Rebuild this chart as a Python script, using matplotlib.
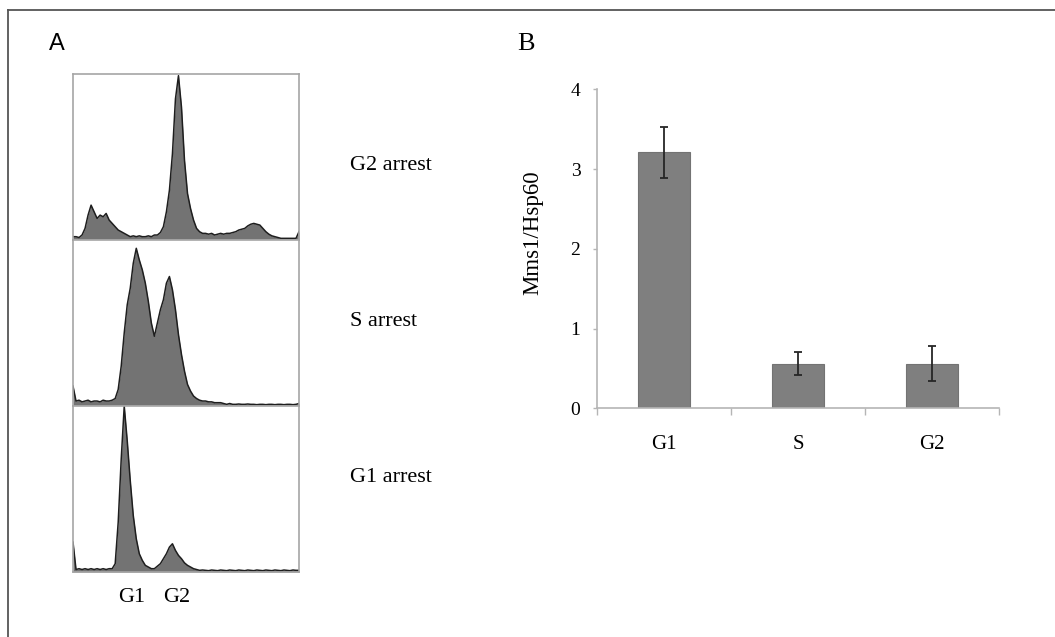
import numpy as np
import matplotlib.pyplot as plt
from matplotlib.lines import Line2D

# DNA content histograms (relative cell counts, 76 channels each)
g2_arrest = [0.02, 0.02, 0.015, 0.03, 0.07, 0.15, 0.21, 0.17, 0.13, 0.15,
             0.14, 0.16, 0.12, 0.10, 0.08, 0.06, 0.05, 0.04, 0.03, 0.02,
             0.025, 0.02, 0.025, 0.02, 0.02, 0.025, 0.02, 0.03, 0.03, 0.045,
             0.08, 0.17, 0.30, 0.52, 0.85, 0.99, 0.80, 0.48, 0.28, 0.19,
             0.12, 0.07, 0.05, 0.04, 0.04, 0.035, 0.04, 0.03, 0.035, 0.04,
             0.035, 0.04, 0.04, 0.045, 0.05, 0.06, 0.065, 0.07, 0.085, 0.095,
             0.10, 0.095, 0.09, 0.07, 0.05, 0.035, 0.025, 0.02, 0.015, 0.01,
             0.01, 0.01, 0.01, 0.01, 0.01, 0.05]
s_arrest = [0.12, 0.03, 0.035, 0.025, 0.03, 0.035, 0.025, 0.03, 0.03, 0.025,
            0.035, 0.03, 0.03, 0.035, 0.045, 0.10, 0.24, 0.44, 0.61, 0.71,
            0.86, 0.95, 0.88, 0.82, 0.74, 0.63, 0.50, 0.42, 0.50, 0.58,
            0.64, 0.74, 0.78, 0.70, 0.58, 0.43, 0.31, 0.21, 0.13, 0.09,
            0.06, 0.045, 0.035, 0.03, 0.03, 0.025, 0.025, 0.02, 0.02, 0.02,
            0.015, 0.01, 0.015, 0.01, 0.01, 0.012, 0.01, 0.01, 0.012, 0.01,
            0.01, 0.008, 0.01, 0.01, 0.008, 0.01, 0.01, 0.008, 0.01, 0.01,
            0.008, 0.01, 0.01, 0.008, 0.01, 0.015]
g1_arrest = [0.18, 0.015, 0.02, 0.015, 0.02, 0.015, 0.02, 0.015, 0.02, 0.015,
             0.02, 0.015, 0.02, 0.02, 0.05, 0.30, 0.68, 1.0, 0.79, 0.55,
             0.34, 0.20, 0.11, 0.07, 0.04, 0.03, 0.02, 0.02, 0.035, 0.05,
             0.08, 0.11, 0.15, 0.17, 0.13, 0.10, 0.08, 0.055, 0.04, 0.03,
             0.02, 0.015, 0.01, 0.012, 0.01, 0.008, 0.012, 0.01, 0.008, 0.012,
             0.01, 0.008, 0.012, 0.01, 0.008, 0.012, 0.01, 0.008, 0.012, 0.01,
             0.008, 0.012, 0.01, 0.008, 0.012, 0.01, 0.008, 0.012, 0.01, 0.008,
             0.012, 0.01, 0.008, 0.012, 0.01, 0.01]
hist_labels = ['G2 arrest', 'S arrest', 'G1 arrest']

# Mms1 levels normalised to Hsp60
phases = ['G1', 'S', 'G2']
ratio = [3.21, 0.56, 0.56]
ratio_err = [0.32, 0.14, 0.22]

plt.rcParams['font.family'] = ['Liberation Serif', 'DejaVu Serif']

fig = plt.figure(figsize=(10.55, 6.37), dpi=100)
W, H = 1055.0, 637.0

# outer frame (left and top edges)
fig.add_artist(Line2D([8 / W, 8 / W], [0, 1 - 10 / H], color='#555555', lw=1.3))
fig.add_artist(Line2D([8 / W, 1], [1 - 10 / H, 1 - 10 / H], color='#555555', lw=1.3))

fig.text(57 / W, 1 - 44 / H, 'A', fontsize=17, family='Liberation Sans',
         ha='center', va='center')
fig.text(526 / W, 1 - 44 / H, 'B', fontsize=19, ha='center', va='center')

# panel A: stacked histograms
hist_data = [g2_arrest, s_arrest, g1_arrest]
tops = [74, 240, 406]
tick_pos = [0.279, 0.226, None]
label_y = [165, 322, 478]
for k in range(3):
    ax = fig.add_axes([73 / W, 1 - (tops[k] + 166) / H, 226 / W, 166 / H])
    y = np.array(hist_data[k])
    x = np.arange(len(y))
    ax.fill_between(x, y, 0, color='#737373', lw=0)
    ax.plot(x, y, color='#1e1e1e', lw=1.1)
    ax.set_xlim(0, len(y) - 1)
    ax.set_ylim(0, 1.0)
    for sp in ax.spines.values():
        sp.set_color('#a5a5a5')
        sp.set_linewidth(1.2)
    ax.set_yticks([])
    if tick_pos[k] is not None:
        ax.set_xticks([tick_pos[k] * (len(y) - 1)])
        ax.tick_params(axis='x', length=7, width=1, color='#555555',
                       labelbottom=False)
    else:
        ax.set_xticks([])
    ax.set_zorder(2)
    fig.text(350 / W, 1 - label_y[k] / H, hist_labels[k], fontsize=16,
             ha='left', va='center')

fig.text(131.5 / W, 1 - 597 / H, 'G1', fontsize=16, ha='center', va='center')
fig.text(177 / W, 1 - 597 / H, 'G2', fontsize=16, ha='center', va='center')

# panel B: bar chart
axb = fig.add_axes([597 / W, 1 - 408.3 / H, 402 / W, 319 / H])
xb = np.arange(len(phases))
axb.bar(xb, ratio, width=0.39, color='#7f7f7f', edgecolor='#737373', lw=0.8)
axb.errorbar(xb, ratio, yerr=ratio_err, fmt='none', ecolor='#262626',
             elinewidth=1.3, capsize=3, capthick=1.3)
axb.set_xlim(-0.5, 2.5)
axb.set_ylim(0, 4)
axb.set_yticks([0, 1, 2, 3, 4])
axb.set_xticks(xb)
axb.set_xticklabels(phases, fontsize=15)
axb.set_xticks([-0.5, 0.5, 1.5, 2.5], minor=True)
axb.tick_params(axis='x', which='major', length=0, pad=19)
axb.tick_params(axis='x', which='minor', length=5, width=1, color='#b5b5b5')
axb.tick_params(axis='y', length=3, width=1, color='#b5b5b5', pad=9,
                labelsize=14)
for side in ['top', 'right']:
    axb.spines[side].set_visible(False)
for side in ['left', 'bottom']:
    axb.spines[side].set_color('#b5b5b5')
    axb.spines[side].set_linewidth(1.2)
fig.text(533 / W, 1 - 233 / H, 'Mms1/Hsp60', fontsize=16.5, rotation=90,
         ha='center', va='center')

plt.savefig('out.png', dpi=100)
